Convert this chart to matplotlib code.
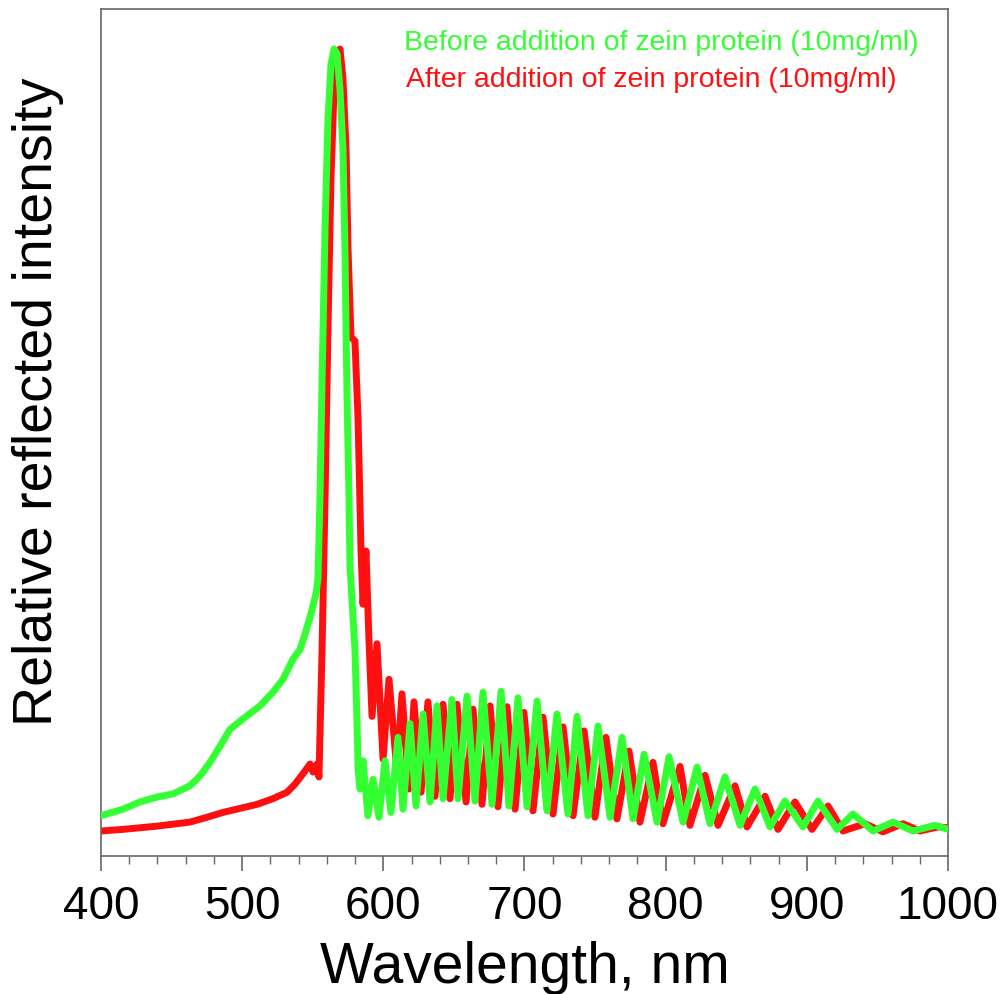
import matplotlib
matplotlib.use("Agg")
import matplotlib.pyplot as plt
from matplotlib.ticker import MultipleLocator, NullLocator

plt.rcParams['font.family'] = ['Liberation Sans', 'DejaVu Sans']

# Before addition (green) : wavelength (nm), relative intensity
before_wl = [400, 415.6, 427.6, 439.7, 451.0, 463.0, 470.1, 477.2, 484.3, 491.4,
             500.6, 512.6, 521.8, 528.9, 536.0, 541.0, 544.5, 548.1, 552.3, 553.7,
             555.1, 556.6, 558.7, 560.8, 562.9, 565.1, 567.2, 569.3, 571.4, 572.8,
             574.3, 575.7, 576.4, 577.8, 579.9, 581.3, 582.1, 583.5,
             585.6, 589.1, 592.7, 596.9, 601.2, 605.4, 610.4, 613.9, 618.9, 623.1,
             628.1, 633.1, 638.0, 642.3, 648.6, 652.9, 659.3, 664.9, 670.6, 677.0,
             683.4, 689.0, 695.4, 701.8, 708.9, 715.9, 723.0, 730.8, 737.2, 745.0,
             752.1, 760.6, 769.1, 776.9, 784.7, 793.9, 802.4, 812.3, 822.2, 831.4,
             842.0, 852.7, 863.3, 873.9, 884.5, 897.3, 907.9, 921.4, 932.7, 946.9,
             961.0, 975.2, 990.8, 1000]
before_int = [5.0, 5.8, 6.7, 7.3, 7.7, 8.7, 9.9, 11.6, 13.6, 15.7,
              17.0, 18.6, 20.3, 21.9, 24.4, 25.6, 27.5, 29.6, 32.5, 34.3,
              44.2, 59.1, 77.7, 91.3, 98.1, 100.0, 99.4, 95.0, 87.6, 75.2,
              56.6, 44.2, 35.9, 31.8, 25.6, 17.0, 10.8, 8.3,
              11.8, 5.0, 9.5, 4.8, 11.8, 5.4, 14.7, 5.8, 16.4, 6.2,
              17.6, 6.7, 18.6, 7.1, 19.4, 7.1, 19.8, 6.8, 20.3, 6.4,
              20.4, 6.2, 19.6, 6.1, 19.2, 5.6, 17.6, 5.2, 17.3, 5.0,
              16.1, 4.8, 14.7, 4.6, 12.6, 4.2, 12.3, 4.2, 11.0, 4.0,
              9.8, 3.8, 8.3, 3.6, 6.8, 3.6, 6.8, 3.3, 5.2, 3.1,
              4.2, 3.1, 3.8, 3.3]

# After addition (red)
after_wl = [400, 415.6, 439.7, 463.0, 475.1, 486.4, 498.5, 510.5, 521.8, 531.8,
            537.4, 543.1, 548.1, 550.2, 553.0, 554.4, 556.6, 558.7, 560.8, 562.9,
            565.1, 567.2, 569.3, 571.4, 573.6, 575.0, 577.1, 579.9, 582.1, 584.2,
            585.6, 587.7, 589.8, 592.0, 595.5, 599.8, 604.0, 609.7, 613.2, 618.2,
            621.7, 626.7, 631.6, 636.6, 642.3, 647.2, 652.2, 658.6, 663.5, 669.9,
            675.6, 681.2, 687.6, 693.3, 699.6, 706.0, 713.1, 720.2, 727.3, 734.4,
            742.2, 749.9, 757.7, 765.5, 774.0, 781.8, 791.0, 798.1, 810.2, 817.2,
            827.9, 837.1, 849.1, 857.6, 870.4, 879.6, 891.6, 903.7, 915.0, 925.6,
            941.2, 953.9, 968.1, 980.2, 992.9, 1000]
after_int = [3.1, 3.3, 3.7, 4.2, 4.8, 5.4, 5.9, 6.4, 7.1, 7.9,
             8.9, 10.2, 11.4, 10.4, 11.4, 9.8, 25.6, 44.2, 65.3, 83.9,
             95.0, 99.7, 100.0, 96.3, 87.6, 75.2, 64.3, 63.8, 54.1, 37.8,
             31.2, 37.8, 26.9, 17.3, 26.3, 12.0, 21.9, 10.4, 20.1, 8.3,
             19.1, 7.9, 19.1, 7.4, 18.8, 7.1, 18.8, 6.7, 18.2, 6.4,
             18.6, 6.1, 18.5, 5.8, 17.8, 5.6, 17.2, 5.2, 16.0, 5.0,
             15.5, 4.8, 14.7, 4.6, 13.0, 4.2, 11.6, 4.0, 11.1, 3.8,
             10.0, 3.8, 8.7, 3.6, 7.4, 3.3, 6.7, 3.3, 6.2, 3.1,
             4.0, 3.0, 4.0, 3.1, 3.6, 3.5]

label_before = "Before addition of zein protein (10mg/ml)"
label_after = "After addition of zein protein (10mg/ml)"

green = '#33ff33'
red = '#ff1010'
frame = '#666666'

fig = plt.figure(figsize=(10.05, 9.95), dpi=100)
ax = fig.add_axes([101/1005, 1 - 857/995, (948-101)/1005, (857-10)/995])

ax.plot(after_wl, after_int, color=red, lw=5, solid_joinstyle='round', zorder=2)
ax.plot(before_wl, before_int, color=green, lw=5, solid_joinstyle='round', zorder=3)

ax.set_xlim(400, 1000)
ax.set_ylim(0, 104.96)

for s in ax.spines.values():
    s.set_color(frame)
    s.set_linewidth(1.2)

ax.xaxis.set_major_locator(MultipleLocator(100))
ax.xaxis.set_minor_locator(MultipleLocator(20))
ax.yaxis.set_major_locator(NullLocator())
ax.yaxis.set_minor_locator(NullLocator())
ax.tick_params(axis='x', which='major', direction='out', length=11, width=1.2,
               color=frame, labelsize=33, pad=9.5, top=False)
ax.tick_params(axis='x', which='minor', direction='out', length=6, width=1.0,
               color=frame, top=False)

ax.set_xlabel("Wavelength, nm", fontsize=41, labelpad=8)
fig.text(38/1005, 1 - 402/995, "Relative reflected intensity", rotation=90,
         fontsize=40, ha='center', va='center')

ax.text((404-101)/847, (857-50)/847, label_before, color=green, fontsize=20.5,
        transform=ax.transAxes, ha='left', va='baseline')
ax.text((406-101)/847, (857-87)/847, label_after, color=red, fontsize=20.5,
        transform=ax.transAxes, ha='left', va='baseline')

fig.savefig("out.png", dpi=100)
